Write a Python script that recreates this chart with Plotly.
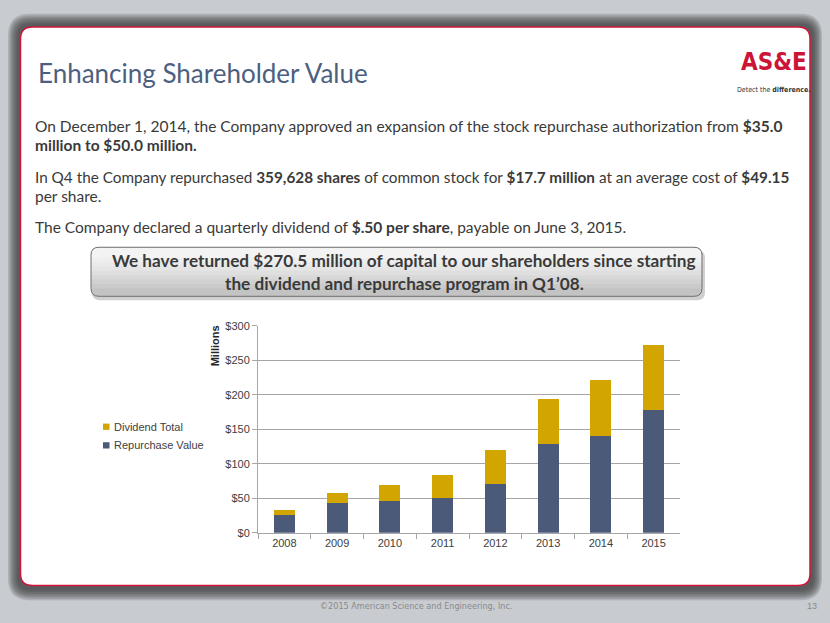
import plotly.graph_objects as go

W, H = 830, 623

# chart data (millions of dollars)
years = ["2008", "2009", "2010", "2011", "2012", "2013", "2014", "2015"]
repurchase = [25.5, 43.5, 46.5, 50, 70.5, 128, 140.5, 178]
dividend = [7.5, 14.5, 23, 34, 50, 66, 81.5, 94.5]
y_ticks = [0, 50, 100, 150, 200, 250, 300]
y_tick_labels = ["$0", "$50", "$100", "$150", "$200", "$250", "$300"]
series_names = ["Repurchase Value", "Dividend Total"]

NAVY = "#4a5a78"
GOLD = "#d3a500"
TEXT = "#3a3a3a"
BODY_FONT = "Lato, Calibri, Open Sans, sans-serif"
CHART_FONT = "Liberation Sans, Arial, sans-serif"
NARROW_FONT = "DejaVu Sans Condensed, Liberation Sans Narrow, Arial Narrow, sans-serif"


def px(x):
    return x / W


def py(y):
    return 1 - y / H


def rrect(x0, y0, x1, y1, r, square_bottom=False):
    """rounded rectangle path in paper coords, from pixel values"""
    pts = [("M", x0 + r, y0), ("L", x1 - r, y0), ("Q", x1, y0, x1, y0 + r)]
    if square_bottom:
        pts += [("L", x1, y1), ("L", x0, y1)]
    else:
        pts += [("L", x1, y1 - r), ("Q", x1, y1, x1 - r, y1),
                ("L", x0 + r, y1), ("Q", x0, y1, x0, y1 - r)]
    pts += [("L", x0, y0 + r), ("Q", x0, y0, x0 + r, y0)]
    out = []
    for p in pts:
        vals = p[1:]
        coords = ["%.5f,%.5f" % (px(vals[i]), py(vals[i + 1])) for i in range(0, len(vals), 2)]
        out.append(p[0] + " ".join(coords))
    return " ".join(out) + " Z"


def box(path, fill, line=None):
    return dict(type="path", xref="paper", yref="paper", layer="below", path=path,
                fillcolor=fill, line=line or dict(width=0))


shapes = []
# soft dark frame behind the slide
outer = (8, 8, 822, 606)
inner = (19, 20, 812, 594)
n_layers = 7
for k in range(n_layers):
    t = k / (n_layers - 1) * 0.85
    r = [outer[i] + (inner[i] - outer[i]) * t for i in range(4)]
    shapes.append(box(rrect(r[0], r[1], r[2], r[3], 22 - k * 1.5), "rgba(60,60,60,0.19)"))
# white slide with red edge
shapes.append(box(rrect(20.5, 21.5, 810, 591, 12), "white",
                  dict(color="#d2143c", width=1.5)))

# callout box: shadow, gradient bands, outline
cx0, cy0, cx1, cy1 = 91, 246, 702, 296
shapes.append(box(rrect(cx0 + 1, cy0 + 3, cx1 + 3, cy1 + 4, 8), "rgba(120,120,120,0.35)"))
shapes.append(box(rrect(cx0, cy0, cx1, cy1, 8), "#c3c3c3"))
band_cols = ["#cacaca", "#d1d1d1", "#d8d8d8", "#dfdfdf", "#e5e5e5", "#eaeaea", "#efefef", "#f3f3f3"]
n = len(band_cols)
for k, col in enumerate(band_cols):
    bottom = cy1 - 8 - k * (cy1 - 8 - cy0 - 6) / n
    shapes.append(box(rrect(cx0, cy0, cx1, bottom, 8, square_bottom=True), col))
shapes.append(box(rrect(cx0, cy0, cx1, cy1, 8), "rgba(0,0,0,0)",
                  dict(color="#6e6e6e", width=1)))

# legend swatches (drawn by hand to get the small squares of the original)
legend_rows = [(series_names[1], GOLD, 429), (series_names[0], NAVY, 448)]
for name, col, yy in legend_rows:
    shapes.append(dict(type="rect", xref="paper", yref="paper", layer="above",
                       x0=px(103), x1=px(109.5), y0=py(yy + 3.2), y1=py(yy - 3.2),
                       fillcolor=col, line=dict(width=0)))

fig = go.Figure()
fig.add_trace(go.Bar(x=years, y=repurchase, name=series_names[0], showlegend=False,
                     marker=dict(color=NAVY, line=dict(width=0))))
fig.add_trace(go.Bar(x=years, y=dividend, name=series_names[1], showlegend=False,
                     marker=dict(color=GOLD, line=dict(width=0))))


def note(text, x, y, size, color=TEXT, family=BODY_FONT, xanchor="left", **kw):
    return dict(text=text, x=px(x), y=py(y), xref="paper", yref="paper",
                xanchor=xanchor, yanchor="middle", showarrow=False,
                font=dict(size=size, color=color, family=family), **kw)


annotations = [
    note("Enhancing Shareholder Value", 36, 68, 26, color="#4d5f80"),
    note("On December 1, 2014, the Company approved an expansion of the stock repurchase "
         "authorization from <b>$35.0</b>", 33, 122, 15.5),
    note("<b>million to $50.0 million.</b>", 33, 142, 15.5),
    note("In Q4 the Company repurchased <b>359,628 shares</b> of common stock for "
         "<b>$17.7 million</b> at an average cost of <b>$49.15</b>", 33, 174, 15.3),
    note("per share.", 33, 194, 15.5),
    note("The Company declared a quarterly dividend of <b>$.50 per share</b>, "
         "payable on June 3, 2015.", 33, 225, 15.5),
    note("<b>We have returned $270.5 million of capital to our shareholders since starting</b>",
         404, 260, 17.2, xanchor="center"),
    note("<b>the dividend and repurchase program in Q1\u201908.</b>", 404, 283, 17.2,
         xanchor="center"),
    note("<b>Millions</b>", 215, 347, 11, family=CHART_FONT, xanchor="center",
         textangle=-90, color="#262626"),
    # logo
    note("<b>AS&amp;E</b>", 774, 57, 24, color="#cc1436", family=NARROW_FONT,
         xanchor="center"),
    note("Detect the <b>difference.</b>", 774, 86, 7, color="#333333",
         family=NARROW_FONT, xanchor="center"),
    # footer
    note("\u00a92015 American Science and Engineering, Inc.", 416, 612, 9, color="#8a8a8a",
         family=NARROW_FONT, xanchor="center"),
    note("13", 812, 612, 9, color="#8a8a8a", family=CHART_FONT, xanchor="center"),
]
for name, col, yy in legend_rows:
    annotations.append(note(name, 112, yy, 11, color="#404040", family=CHART_FONT))

fig.update_layout(
    autosize=True,
    margin=dict(l=0, r=0, t=0, b=0),
    paper_bgcolor="#c8ccd1",
    plot_bgcolor="rgba(0,0,0,0)",
    barmode="stack",
    bargap=0.6,
    shapes=shapes,
    annotations=annotations,
    showlegend=False,
    xaxis=dict(domain=[px(258), px(680)], type="category",
               showgrid=False, showline=True, linecolor="#a6a6a6", linewidth=1,
               ticks="outside", tickson="boundaries", ticklen=5, tickcolor="#a6a6a6",
               tickfont=dict(family=CHART_FONT, size=11, color="#404040")),
    yaxis=dict(domain=[py(537), py(326)], range=[0, 300],
               tickvals=y_ticks, ticktext=y_tick_labels,
               showgrid=True, gridcolor="#a6a6a6", gridwidth=1, zeroline=False,
               showline=True, linecolor="#a6a6a6", linewidth=1,
               ticks="outside", ticklen=5, tickcolor="#a6a6a6",
               tickfont=dict(family=CHART_FONT, size=11, color="#404040")),
)

# pin the plot to the window so page margins cannot shift it
pin = ("document.body.style.margin='0';document.body.style.overflow='hidden';"
       "var d=document.getElementById('{plot_id}');"
       "d.style.position='fixed';d.style.left='0';d.style.top='0';")
fig.write_html("out.html", default_width="100vw", default_height="100vh",
               config={"displayModeBar": False}, post_script=pin)
